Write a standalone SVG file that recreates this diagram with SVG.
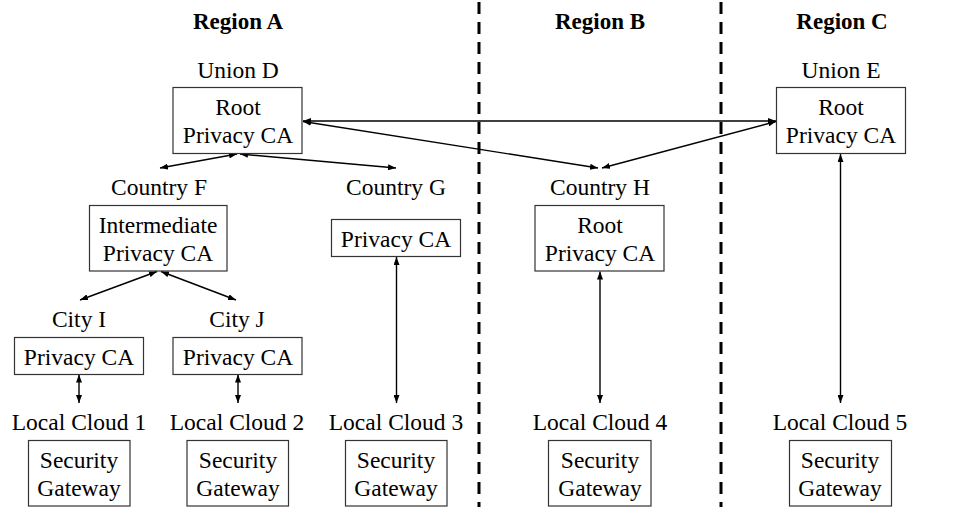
<svg xmlns="http://www.w3.org/2000/svg" width="959" height="507" viewBox="0 0 959 507">
  <defs>
    <marker id="head" viewBox="0 0 8 6" refX="8" refY="3" markerWidth="8" markerHeight="6" markerUnits="userSpaceOnUse" orient="auto-start-reverse">
      <path d="M0,0 L8,3 L0,6 z" fill="#000"/>
    </marker>
    <style>
      text { font-family: "Liberation Serif", "DejaVu Serif", serif; font-size: 23.5px; fill: #000; text-anchor: middle; }
      .title { font-weight: bold; font-size: 23px; }
      .box { fill: #fff; stroke: #333; stroke-width: 1.2; }
      .link { stroke: #000; stroke-width: 1.4; fill: none; marker-start: url(#head); marker-end: url(#head); }
      .divider { stroke: #000; stroke-width: 3; stroke-dasharray: 12 8; fill: none; }
    </style>
  </defs>
  <rect width="959" height="507" fill="#fff"/>

  <!-- region dividers -->
  <g id="dividers">
    <line class="divider" x1="479" y1="2" x2="479" y2="507"/>
    <line class="divider" x1="721" y1="2" x2="721" y2="507"/>
  </g>

  <!-- region headings -->
  <g id="headings">
    <text class="title" x="238" y="29">Region A</text>
    <text class="title" x="600" y="29">Region B</text>
    <text class="title" x="842" y="29">Region C</text>
  </g>

  <!-- connectors -->
  <g id="connectors">
    <line class="link" x1="303" y1="121" x2="776" y2="121"/>
    <line class="link" x1="303" y1="121.5" x2="598" y2="168"/>
    <line class="link" x1="776" y1="121.5" x2="602" y2="168"/>
    <line class="link" x1="237" y1="154" x2="160" y2="168"/>
    <line class="link" x1="240" y1="154" x2="396" y2="168"/>
    <line class="link" x1="157" y1="271.5" x2="80" y2="300"/>
    <line class="link" x1="161" y1="271.5" x2="236" y2="300"/>
    <line class="link" x1="79" y1="374.5" x2="79" y2="403"/>
    <line class="link" x1="238" y1="374.5" x2="238" y2="403"/>
    <line class="link" x1="396.5" y1="257" x2="396.5" y2="403"/>
    <line class="link" x1="600" y1="271.5" x2="600" y2="403"/>
    <line class="link" x1="840.5" y1="154" x2="840.5" y2="403"/>
  </g>

  <g id="union-d">
    <text x="238" y="78">Union D</text>
    <rect class="box" x="173" y="87.5" width="129" height="66"/>
    <text x="238" y="115">Root</text>
    <text x="238" y="143">Privacy CA</text>
  </g>

  <g id="union-e">
    <text x="841" y="78">Union E</text>
    <rect class="box" x="776.5" y="87.5" width="129" height="66"/>
    <text x="841" y="115">Root</text>
    <text x="841" y="143">Privacy CA</text>
  </g>

  <g id="country-f">
    <text x="159" y="195">Country F</text>
    <rect class="box" x="89.5" y="205.5" width="137.5" height="65.5"/>
    <text x="158" y="233">Intermediate</text>
    <text x="158" y="261">Privacy CA</text>
  </g>

  <g id="country-g">
    <text x="396" y="195">Country G</text>
    <rect class="box" x="331.5" y="219.5" width="129" height="37"/>
    <text x="396" y="247">Privacy CA</text>
  </g>

  <g id="country-h">
    <text x="600" y="195">Country H</text>
    <rect class="box" x="535" y="205.5" width="129" height="65.5"/>
    <text x="600" y="233">Root</text>
    <text x="600" y="261">Privacy CA</text>
  </g>

  <g id="city-i">
    <text x="79" y="327">City I</text>
    <rect class="box" x="14.5" y="337.5" width="129" height="37"/>
    <text x="79" y="365">Privacy CA</text>
  </g>

  <g id="city-j">
    <text x="237" y="327">City J</text>
    <rect class="box" x="173" y="337.5" width="129" height="37"/>
    <text x="238" y="365">Privacy CA</text>
  </g>

  <g id="local-cloud-1">
    <text x="79" y="430">Local Cloud 1</text>
    <rect class="box" x="28.5" y="440.5" width="101.5" height="65.5"/>
    <text x="79" y="468">Security</text>
    <text x="79" y="496">Gateway</text>
  </g>

  <g id="local-cloud-2">
    <text x="237" y="430">Local Cloud 2</text>
    <rect class="box" x="187" y="440.5" width="101.5" height="65.5"/>
    <text x="238" y="468">Security</text>
    <text x="238" y="496">Gateway</text>
  </g>

  <g id="local-cloud-3">
    <text x="396" y="430">Local Cloud 3</text>
    <rect class="box" x="345.5" y="440.5" width="101.5" height="65.5"/>
    <text x="396" y="468">Security</text>
    <text x="396" y="496">Gateway</text>
  </g>

  <g id="local-cloud-4">
    <text x="600" y="430">Local Cloud 4</text>
    <rect class="box" x="548.5" y="440.5" width="102.5" height="65.5"/>
    <text x="600" y="468">Security</text>
    <text x="600" y="496">Gateway</text>
  </g>

  <g id="local-cloud-5">
    <text x="840" y="430">Local Cloud 5</text>
    <rect class="box" x="789.5" y="440.5" width="102" height="65.5"/>
    <text x="840" y="468">Security</text>
    <text x="840" y="496">Gateway</text>
  </g>
</svg>
